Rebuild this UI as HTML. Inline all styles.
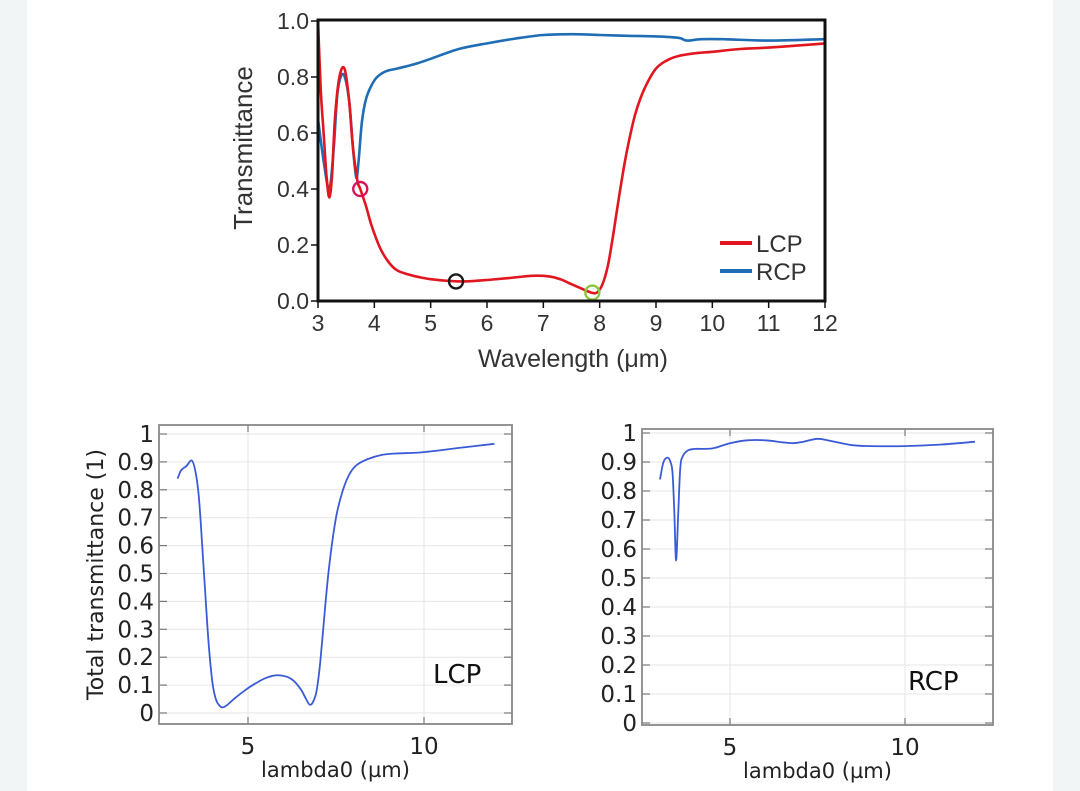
<!DOCTYPE html>
<html><head><meta charset="utf-8">
<style>
html,body{margin:0;padding:0;background:#fff;}
body{width:1080px;height:791px;position:relative;overflow:hidden;font-family:"Liberation Sans",sans-serif;}
.band{position:absolute;top:0;height:791px;background:#f2f5f6;}
svg{position:absolute;left:0;top:0;}
</style></head>
<body>
<div class="band" style="left:0;width:27px"></div>
<div class="band" style="left:1053px;width:27px"></div>
<svg id="s" width="1080" height="791"></svg>
<script>
// ---- Top chart data ----
const topLcpX = [3.0,3.05,3.1,3.15,3.2,3.25,3.3,3.38,3.47,3.55,3.62,3.7,3.75,3.85,3.95,4.1,4.25,4.4,4.6,4.8,5.0,5.3,5.6,6.0,6.4,6.8,7.1,7.3,7.5,7.7,7.85,7.95,8.05,8.15,8.25,8.35,8.45,8.55,8.65,8.8,9.0,9.2,9.4,9.7,10.0,10.5,11.0,11.5,12.0];
const topLcpY = [1.0,0.75,0.6,0.45,0.37,0.45,0.65,0.8,0.83,0.72,0.55,0.43,0.40,0.34,0.27,0.19,0.14,0.11,0.095,0.085,0.078,0.072,0.07,0.075,0.082,0.09,0.088,0.078,0.06,0.042,0.03,0.03,0.06,0.13,0.25,0.38,0.5,0.6,0.68,0.76,0.83,0.86,0.875,0.885,0.89,0.9,0.905,0.912,0.92];
const topRcpX = [3.0,3.1,3.2,3.28,3.35,3.45,3.55,3.62,3.68,3.72,3.78,3.85,3.95,4.05,4.2,4.4,4.7,5.0,5.5,6.0,6.5,7.0,7.5,8.0,8.5,9.0,9.4,9.55,9.8,10.2,11.0,12.0];
const topRcpY = [0.65,0.5,0.4,0.55,0.75,0.81,0.72,0.55,0.44,0.5,0.64,0.72,0.77,0.8,0.82,0.83,0.845,0.865,0.9,0.92,0.937,0.95,0.953,0.95,0.947,0.945,0.94,0.93,0.935,0.935,0.93,0.935];
const topMarkX = [3.75,5.45,7.87];
const topMarkY = [0.40,0.07,0.03];
const topMarkColor = ["#d4145a","#1a1a1a","#8cc63f"];
const topXTicks = [3,4,5,6,7,8,9,10,11,12];
const topYTicks = ["0.0","0.2","0.4","0.6","0.8","1.0"];
// ---- Bottom-left (LCP) ----
const blX = [3.0,3.1,3.25,3.4,3.5,3.6,3.7,3.8,3.9,4.0,4.1,4.2,4.28,4.4,4.6,4.9,5.2,5.5,5.8,6.1,6.3,6.5,6.65,6.75,6.85,6.95,7.05,7.15,7.3,7.5,7.7,7.9,8.1,8.4,8.8,9.2,10.0,11.0,12.0];
const blY = [0.84,0.87,0.885,0.905,0.87,0.78,0.6,0.4,0.22,0.1,0.045,0.025,0.02,0.028,0.05,0.08,0.105,0.125,0.135,0.13,0.115,0.085,0.05,0.03,0.04,0.08,0.18,0.32,0.52,0.7,0.8,0.86,0.89,0.91,0.925,0.93,0.935,0.95,0.965];
// ---- Bottom-right (RCP) ----
const brX = [3.0,3.1,3.22,3.3,3.36,3.41,3.46,3.52,3.58,3.65,3.8,4.0,4.5,5.0,5.5,6.0,6.5,6.8,7.1,7.5,7.9,8.5,9.0,10.0,11.0,12.0];
const brY = [0.84,0.9,0.915,0.9,0.86,0.72,0.56,0.72,0.88,0.92,0.94,0.945,0.947,0.965,0.975,0.975,0.968,0.965,0.97,0.98,0.972,0.958,0.955,0.955,0.96,0.97];
const bTicksY = ["0","0.1","0.2","0.3","0.4","0.5","0.6","0.7","0.8","0.9","1"];
const bTicksX = [5,10];

const NS="http://www.w3.org/2000/svg";
const svg=document.getElementById('s');
function mk(tag,attrs,parent){const e=document.createElementNS(NS,tag);for(const k in attrs)e.setAttribute(k,attrs[k]);(parent||svg).appendChild(e);return e;}
function txt(s,attrs,parent){const e=mk('text',attrs,parent);e.textContent=s;return e;}
function lin(d0,d1,r0,r1){return v=>r0+(v-d0)/(d1-d0)*(r1-r0);}
function pathD(xs,ys,sx,sy){
  const p=xs.map((x,i)=>[sx(x),sy(ys[i])]);
  let d="M"+p[0][0].toFixed(1)+","+p[0][1].toFixed(1);
  for(let i=0;i<p.length-1;i++){
    const p0=p[i-1]||p[i],p1=p[i],p2=p[i+1],p3=p[i+2]||p2;
    const c1=[p1[0]+(p2[0]-p0[0])/6,p1[1]+(p2[1]-p0[1])/6];
    const c2=[p2[0]-(p3[0]-p1[0])/6,p2[1]-(p3[1]-p1[1])/6];
    d+=`C${c1[0].toFixed(1)},${c1[1].toFixed(1)} ${c2[0].toFixed(1)},${c2[1].toFixed(1)} ${p2[0].toFixed(1)},${p2[1].toFixed(1)}`;
  }
  return d;
}

// ===== Top chart =====
const tg=mk('g',{});


const tx=lin(3,12,318,825), ty=lin(0,1,301,21);
const rcp=mk('path',{d:pathD(topRcpX,topRcpY,tx,ty),fill:'none',stroke:'#1f6db4','stroke-width':2.6},tg);


const lcp=mk('path',{d:pathD(topLcpX,topLcpY,tx,ty),fill:'none',stroke:'#e1161f','stroke-width':2.6},tg);


topMarkX.forEach((x,i)=>{
  const c=mk('circle',{cx:tx(x),cy:ty(topMarkY[i]),r:7,fill:'none',stroke:topMarkColor[i],'stroke-width':2.4},tg);
  
  
});
const fr=mk('rect',{x:318,y:20,width:507,height:281,fill:'none',stroke:'#111','stroke-width':3},tg);


topXTicks.forEach(v=>{
  mk('line',{x1:tx(v),x2:tx(v),y1:301,y2:308,stroke:'#111','stroke-width':1.5},tg);
  const t=txt(String(v),{x:tx(v),y:331,'font-size':23,'text-anchor':'middle',fill:'#333'},tg);
  
  
});
topYTicks.forEach(s=>{
  const v=parseFloat(s);
  mk('line',{x1:311,x2:318,y1:ty(v),y2:ty(v),stroke:'#111','stroke-width':1.5},tg);
  const t=txt(s,{x:309,y:ty(v)+8,'font-size':23,'text-anchor':'end',fill:'#333'},tg);
  
  
});
let t1=txt('Transmittance',{x:0,y:0,'font-size':26,'text-anchor':'middle',fill:'#333',transform:'translate(252,148) rotate(-90)'},tg);


let t2=txt('Wavelength (μm)',{x:573,y:367,'font-size':25,'text-anchor':'middle',fill:'#333'},tg);


const lg=mk('g',{},tg);


mk('line',{x1:720,x2:752,y1:243,y2:243,stroke:'#e1161f','stroke-width':4},lg);
txt('LCP',{x:756,y:252,'font-size':24,fill:'#333'},lg);
mk('line',{x1:720,x2:752,y1:271,y2:271,stroke:'#1f6db4','stroke-width':4},lg);
txt('RCP',{x:756,y:280,'font-size':24,fill:'#333'},lg);

// ===== Bottom charts =====
function bottom(name,L,R,T,B,y0,y1,x5,x10,xs,ys,label,lx,ly,ytitle){
  const g=mk('g',{});
  
  
  const sx=lin(5,10,x5,x10), sy=lin(0,1,y0,y1);
  bTicksY.forEach(s=>{const v=parseFloat(s);
    mk('line',{x1:L,x2:R,y1:sy(v),y2:sy(v),stroke:'#e6e6e6','stroke-width':1},g);
    mk('line',{x1:L,x2:L+8,y1:sy(v),y2:sy(v),stroke:'#777','stroke-width':1.2},g);
    mk('line',{x1:R-8,x2:R,y1:sy(v),y2:sy(v),stroke:'#777','stroke-width':1.2},g);
    const t=txt(s,{x:L-5,y:sy(v)+8,'font-size':23,'text-anchor':'end',fill:'#222','font-family':'DejaVu Sans,sans-serif'},g);
    
    
  });
  bTicksX.forEach(v=>{
    mk('line',{x1:sx(v),x2:sx(v),y1:T,y2:B,stroke:'#e6e6e6','stroke-width':1},g);
    mk('line',{x1:sx(v),x2:sx(v),y1:B-7,y2:B,stroke:'#777','stroke-width':1.2},g);
    mk('line',{x1:sx(v),x2:sx(v),y1:T,y2:T+7,stroke:'#777','stroke-width':1.2},g);
    const t=txt(String(v),{x:sx(v),y:B+30,'font-size':23,'text-anchor':'middle',fill:'#222','font-family':'DejaVu Sans,sans-serif'},g);
    
    
  });
  const fr=mk('rect',{x:L,y:T,width:R-L,height:B-T,fill:'none',stroke:'#888','stroke-width':1.8},g);
  
  
  const p=mk('path',{d:pathD(xs,ys,sx,sy),fill:'none',stroke:'#3b5bd6','stroke-width':1.8},g);
  
  
  const lb=txt(label,{x:lx,y:ly,'font-size':26,fill:'#111','font-family':'DejaVu Sans,sans-serif'},g);
  
  
  const xt=txt('lambda0 (µm)',{x:(L+R)/2,y:B+53,'font-size':21,'text-anchor':'middle',fill:'#222','font-family':'DejaVu Sans,sans-serif'},g);
  
  
  if(ytitle){
    const yt=txt(ytitle,{x:0,y:0,'font-size':22,'text-anchor':'middle',fill:'#222','font-family':'DejaVu Sans,sans-serif',transform:`translate(103,${(T+B)/2}) rotate(-90)`},g);
    
    
  }
}
bottom('lcp-simulation-chart',159,512,425,724,713,434,248,424,blX,blY,'LCP',433,683,'Total transmittance (1)');
bottom('rcp-simulation-chart',642,993,429,725,723,433,730,905,brX,brY,'RCP',908,690,null);
</script>
</body></html>
